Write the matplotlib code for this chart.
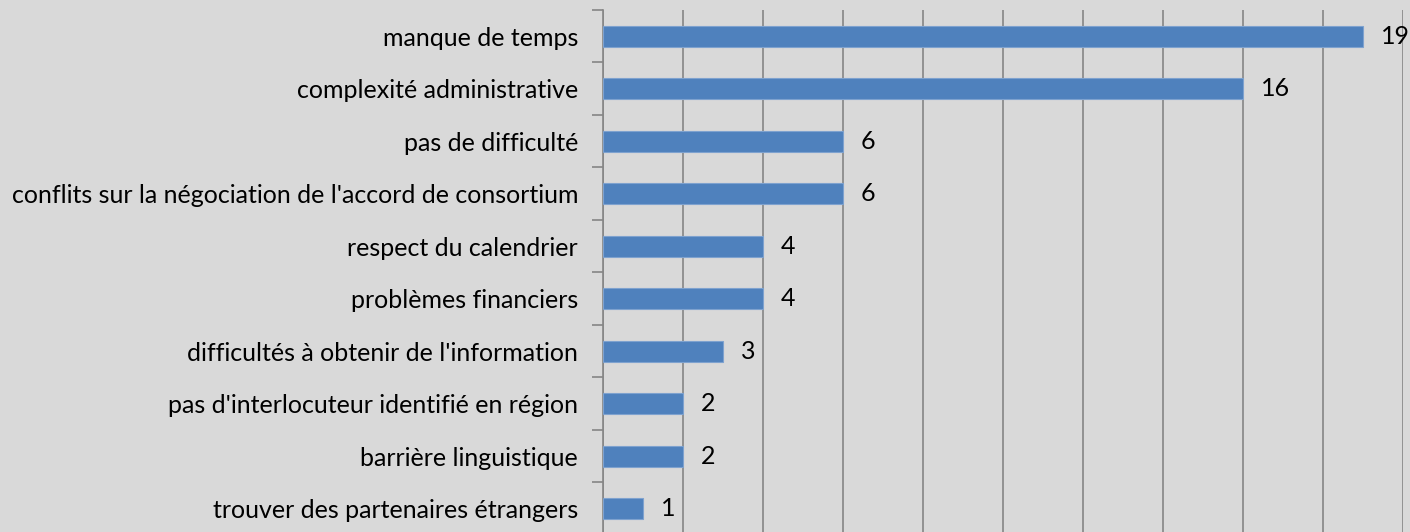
import numpy as np
import matplotlib.pyplot as plt

categories = [
    "manque de temps",
    "complexité administrative",
    "pas de difficulté",
    "conflits sur la négociation de l'accord de consortium",
    "respect du calendrier",
    "problèmes financiers",
    "difficultés à obtenir de l'information",
    "pas d'interlocuteur identifié en région",
    "barrière linguistique",
    "trouver des partenaires étrangers",
]
counts = [19, 16, 6, 6, 4, 4, 3, 2, 2, 1]

plt.rcParams['font.family'] = ['Lato', 'DejaVu Sans']

bg = "#d9d9d9"
fig = plt.figure(figsize=(14.1, 5.32), dpi=100, facecolor=bg)
ax = fig.add_axes([603 / 1410, -3 / 532, 800 / 1410, 525 / 532], facecolor=bg)

y = np.arange(len(categories))
ax.barh(y, counts, height=0.4, color="#4f81bd", edgecolor="#7ea2cf", linewidth=0.8, zorder=3)

for yi, v in zip(y, counts):
    ax.text(v + 0.45, yi, str(v), va="center", ha="left", fontsize=18, color="black")

ax.set_xlim(0, 20)
ax.set_ylim(len(categories) - 0.5, -0.5)
ax.set_xticks(np.arange(0, 21, 2))
ax.tick_params(axis="x", length=0, labelbottom=False)
ax.xaxis.grid(True, color="#868686", linewidth=1.2, zorder=0)

ax.set_yticks(y)
ax.set_yticklabels(categories, fontsize=18)
ax.set_yticks(np.arange(-0.5, len(categories), 1), minor=True)
ax.tick_params(axis="y", which="major", length=0, pad=18)
ax.tick_params(axis="y", which="minor", length=8, color="#868686", width=1.2)

for s in ["top", "right", "bottom"]:
    ax.spines[s].set_visible(False)
ax.spines["left"].set_color("#868686")
ax.spines["left"].set_linewidth(1.2)

fig.savefig("out.png", dpi=100, facecolor=bg)
